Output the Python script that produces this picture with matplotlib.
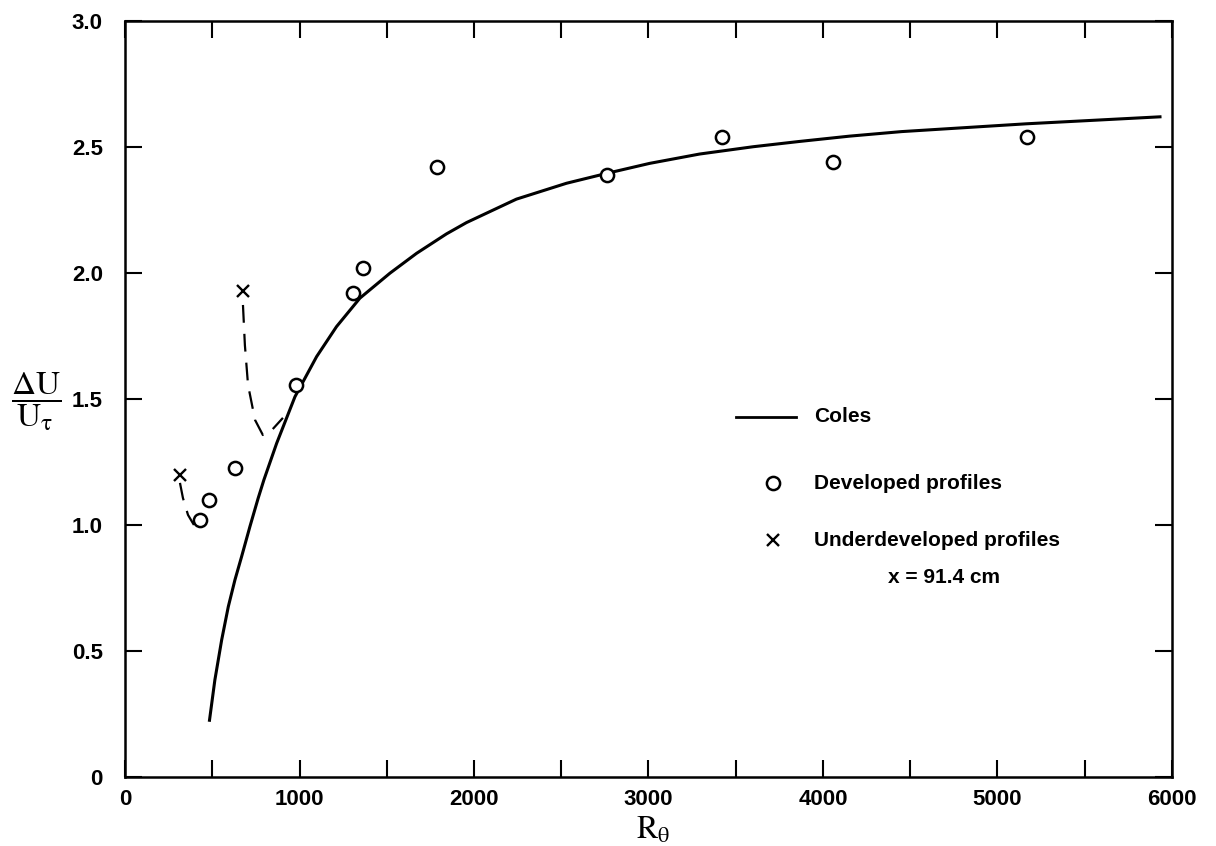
import matplotlib
matplotlib.use("Agg")
import matplotlib.pyplot as plt

# ---- data ----
coles_x = [483, 515, 554, 592, 630, 668, 716, 763, 796, 869, 974, 1098, 1212,
           1346, 1518, 1671, 1842, 1957, 2243, 2530, 2759, 3007, 3293, 3600,
           3866, 4152, 4450, 5166, 5940]
coles_y = [0.219, 0.385, 0.544, 0.676, 0.782, 0.874, 0.994, 1.106, 1.179,
           1.324, 1.509, 1.668, 1.787, 1.900, 1.999, 2.078, 2.155, 2.200,
           2.293, 2.356, 2.395, 2.435, 2.472, 2.501, 2.522, 2.543, 2.561,
           2.592, 2.620]

dev_x = [430, 481, 630, 979, 1306, 1363, 1787, 2760, 3419, 4055, 5172]
dev_y = [1.02, 1.10, 1.226, 1.556, 1.92, 2.02, 2.42, 2.39, 2.54, 2.44, 2.54]

under_x = [315, 676]
under_y = [1.198, 1.93]

dash1_x = [315, 332, 361, 395]
dash1_y = [1.167, 1.107, 1.04, 1.0]
dash2_x = [676, 687, 705, 745, 790, 842, 905]
dash2_y = [1.873, 1.714, 1.556, 1.417, 1.357, 1.377, 1.425]

xticks = [0, 1000, 2000, 3000, 4000, 5000, 6000]
xtick_labels = ["0", "1000", "2000", "3000", "4000", "5000", "6000"]
yticks = [0, 0.5, 1.0, 1.5, 2.0, 2.5, 3.0]
ytick_labels = ["0", "0.5", "1.0", "1.5", "2.0", "2.5", "3.0"]

# ---- fonts ----
tfam = ["Liberation Sans", "DejaVu Sans"]
tick_size = 16
leg_size = 15
plt.rcParams["mathtext.fontset"] = "stix"

fig = plt.figure(figsize=(12.16, 8.46), dpi=100)
ax = fig.add_axes([0.1028, 0.0816, 0.8610, 0.8936])

ax.plot(coles_x, coles_y, color="black", lw=2.2, solid_capstyle="butt",
        solid_joinstyle="round")
ax.plot(dash1_x, dash1_y, color="black", lw=1.6, dashes=(8, 5))
ax.plot(dash2_x, dash2_y, color="black", lw=1.6, dashes=(8, 5))
ax.plot(dev_x, dev_y, linestyle="none", marker="o", ms=9.5, mfc="white",
        mec="black", mew=1.8)
ax.plot(under_x, under_y, linestyle="none", marker="x", ms=9, mec="black",
        mew=1.7)

ax.set_xlim(0, 6000)
ax.set_ylim(0, 3.0)
ax.set_xticks(xticks)
ax.set_xticklabels(xtick_labels)
ax.set_yticks(yticks)
ax.set_yticklabels(ytick_labels)
ax.set_xticks(range(500, 6000, 1000), minor=True)
ax.tick_params(which="both", direction="in", top=True, right=True,
               length=12, width=1.5)
ax.tick_params(axis="x", which="major", pad=9)
ax.tick_params(axis="y", which="major", pad=16)
for lab in ax.get_xticklabels() + ax.get_yticklabels():
    lab.set_family(tfam)
    lab.set_fontweight("bold")
    lab.set_fontsize(tick_size)
for s in ax.spines.values():
    s.set_linewidth(1.8)

# axis labels
fig.text(653 / 1216, 1 - 830 / 846, r"$\mathrm{R}_{\mathrm{\theta}}$",
         fontsize=23, ha="center", va="center")
fig.text(36 / 1216, 1 - 402 / 846,
         r"$\dfrac{\Delta\mathrm{U}}{\mathrm{U}_{\mathrm{\tau}}}$",
         fontsize=24, ha="center", va="center")

# legend (manual)
ax.plot([3500, 3845], [1.43, 1.43], color="black", lw=2.0)
ax.text(3950, 1.43, "Coles", family=tfam, fontweight="bold",
        fontsize=leg_size, va="center")
ax.plot([3715], [1.165], linestyle="none", marker="o", ms=9.5, mfc="white",
        mec="black", mew=1.8)
ax.text(3950, 1.165, "Developed profiles", family=tfam, fontweight="bold",
        fontsize=leg_size, va="center")
ax.plot([3715], [0.94], linestyle="none", marker="x", ms=9, mec="black",
        mew=1.7)
ax.text(3950, 0.94, "Underdeveloped profiles", family=tfam,
        fontweight="bold", fontsize=leg_size, va="center")
ax.text(4375, 0.79, "x = 91.4 cm", family=tfam, fontweight="bold",
        fontsize=leg_size, va="center")

fig.savefig("out.png", dpi=100)
